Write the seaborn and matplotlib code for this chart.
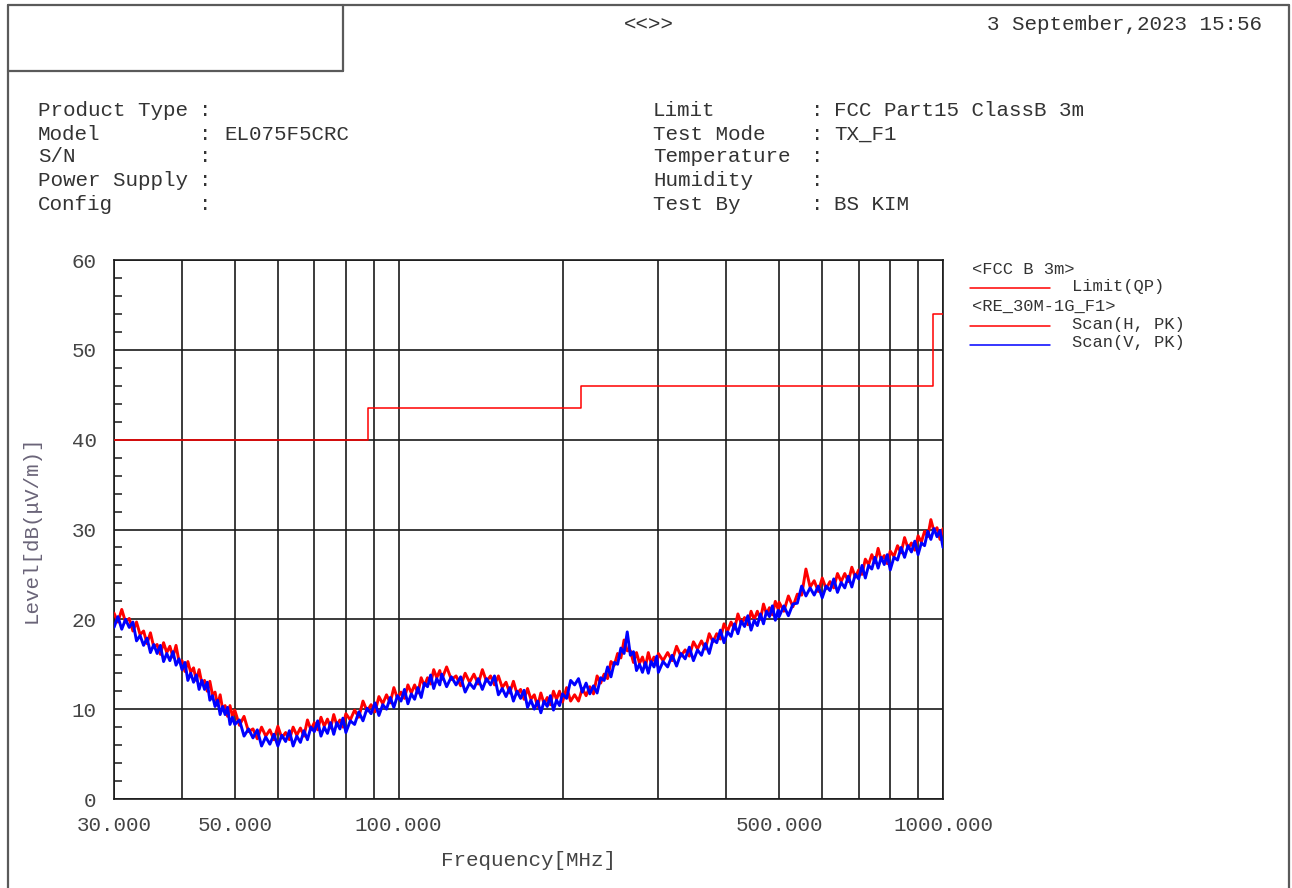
import matplotlib
matplotlib.use("Agg")
import matplotlib.pyplot as plt
import seaborn as sns
import pandas as pd
from matplotlib.lines import Line2D
from matplotlib.ticker import FixedLocator, NullFormatter

# ---------------- data ----------------
freq_mhz = [30, 30.5, 31, 31.5, 32, 32.5, 33, 33.5, 34, 34.5, 35, 35.5, 36, 36.5, 37, 37.5, 38, 38.5, 39, 39.5,
            40, 40.5, 41, 41.5, 42, 42.5, 43, 43.5, 44, 44.5, 45, 45.5, 46, 46.5, 47, 47.5, 48, 48.5, 49, 49.5,
            50, 51, 52, 53, 54, 55, 56, 57, 58, 59, 60, 61, 62, 63, 64, 65, 66, 67, 68, 69,
            70, 71, 72, 73, 74, 75, 76, 77, 78, 79,
            80, 81.5, 83, 84.5, 86, 87.5, 89, 90.5, 92, 93.5, 95, 96.5, 98, 99.5, 101, 102.5, 104, 105.5,
            107, 108.5, 110, 111.5, 113, 114.5, 116, 117.5, 119,
            120, 122.5, 125, 127.5, 130, 132.5, 135, 137.5, 140, 142.5, 145, 147.5, 150, 152.5, 155, 157.5,
            160, 162.5, 165, 167.5, 170, 172.5, 175, 177.5, 180, 182.5, 185, 187.5, 190, 192.5, 195, 197.5,
            200, 203.5, 207, 210.5, 214, 217.5, 221, 224.5, 228, 231.5, 235, 238.5, 242, 245.5, 249, 252.5,
            256, 259.5, 263, 266.5, 270, 273.5, 277, 280.5, 284, 287.5, 291, 294.5, 298,
            300, 306, 312, 318, 324, 330, 336, 342, 348, 354, 360, 366, 372, 378, 384, 390, 396, 402, 408,
            414, 420, 426, 432, 438, 444, 450, 456, 462, 468, 474, 480, 486, 492, 498,
            500, 510, 520, 530, 540, 550, 560, 570, 580, 590, 600, 610, 620, 630, 640, 650, 660, 670, 680,
            690, 700, 710, 720, 730, 740, 750, 760, 770, 780, 790,
            800, 812.5, 825, 837.5, 850, 862.5, 875, 887.5, 900, 912.5, 925, 937.5, 950, 962.5, 975, 987.5, 1000]

scan_h = [20.7, 19.7, 21.1, 19.7, 20.1, 18.7, 19.7, 18.3, 18.7, 17.3, 18.5, 16.9, 17.2, 16.1, 17.4, 16.3, 17.0, 15.8, 17.1, 15.3,
          15.4, 14.2, 15.3, 14.1, 14.6, 13.2, 14.4, 12.9, 13.2, 12.0, 13.1, 11.6, 11.9, 10.4, 11.6, 10.0, 10.4, 9.2, 10.4, 9.2,
          9.9, 8.2, 9.2, 7.5, 7.8, 6.7, 8.0, 7.0, 7.7, 6.6, 8.1, 6.8, 7.4, 6.6, 8.0, 7.1, 7.9, 7.0, 8.8, 7.7,
          8.5, 7.7, 9.1, 8.1, 8.9, 7.9, 9.4, 8.2, 8.8, 8.0,
          9.5, 8.8, 9.9, 9.1, 10.9, 9.8, 10.5, 9.7, 11.4, 10.6, 11.6, 10.7, 12.4, 11.2, 11.9, 11.2, 12.7, 11.8,
          12.7, 11.8, 13.5, 12.6, 13.5, 12.8, 14.4, 13.5, 14.3,
          13.3, 14.7, 13.3, 13.7, 12.6, 14.0, 13.0, 13.9, 12.8, 14.4, 13.1, 13.7, 12.7, 13.7, 12.4, 13.0,
          11.8, 13.1, 11.7, 12.2, 11.1, 12.3, 11.1, 11.6, 10.3, 11.8, 10.6, 11.3, 10.5, 12.0, 11.1, 12.0,
          10.8, 12.4, 10.9, 11.6, 10.9, 12.3, 11.5, 12.5, 11.7, 13.7, 12.9, 13.9, 13.4, 15.3, 14.9, 16.2,
          15.7, 17.7, 16.5, 16.5, 15.2, 16.3, 15.1, 15.8, 14.7, 16.3, 15.1, 15.8, 14.9,
          16.2, 15.4, 16.3, 15.4, 17.0, 15.9, 16.6, 15.9, 17.5, 16.7, 17.6, 16.7, 18.4, 17.5, 18.4, 17.8, 19.5, 18.7, 19.7,
          18.9, 20.6, 19.5, 20.2, 19.4, 20.9, 20.0, 20.9, 20.0, 21.7, 20.6, 21.3, 20.5, 22.0, 21.1,
          21.9, 20.9, 22.6, 21.4, 22.8, 22.7, 25.6, 23.6, 24.3, 23.1, 24.6, 23.4, 24.2, 23.5, 25.1, 24.2, 25.1, 24.2, 25.8,
          24.7, 25.5, 25.0, 26.7, 26.1, 27.2, 26.3, 27.9, 26.6, 27.1, 26.2,
          27.6, 27.0, 28.2, 27.4, 29.1, 27.9, 28.5, 27.7, 29.3, 28.6, 29.8, 29.2, 31.1, 29.8, 30.2, 28.9, 30.1]

scan_v = [19.1, 20.3, 18.9, 20.0, 19.1, 19.7, 17.6, 18.2, 17.1, 17.9, 16.3, 17.2, 16.2, 17.1, 15.3, 16.2, 15.4, 16.4, 14.9, 15.6,
          14.4, 15.2, 13.2, 14.0, 13.0, 13.8, 12.2, 13.2, 12.2, 13.0, 11.0, 11.5, 10.3, 11.0, 9.4, 10.3, 9.4, 10.2, 8.3, 9.1,
          8.3, 8.8, 7.0, 7.8, 6.8, 7.7, 5.9, 6.9, 6.1, 7.2, 5.9, 7.1, 6.4, 7.6, 5.9, 7.0, 6.3, 7.6, 6.6, 8.0,
          7.5, 8.7, 7.0, 8.0, 7.3, 8.5, 7.2, 8.5, 7.8, 9.0,
          7.4, 8.7, 8.3, 9.7, 8.7, 10.1, 9.5, 10.7, 9.3, 10.5, 10.0, 11.3, 10.2, 11.5, 10.9, 12.2, 10.6, 11.7,
          11.1, 12.4, 11.3, 12.9, 12.5, 13.8, 12.3, 13.4, 12.7,
          13.9, 12.5, 13.6, 12.7, 13.6, 11.9, 12.9, 12.3, 13.4, 12.2, 13.4, 12.7, 13.7, 11.6, 12.3, 11.4,
          12.4, 10.9, 12.0, 11.2, 12.1, 10.2, 11.0, 10.0, 10.9, 9.6, 10.9, 10.3, 11.5, 9.9, 11.0, 10.4,
          11.7, 11.2, 13.2, 12.7, 13.4, 11.9, 12.9, 11.7, 12.6, 11.8, 13.5, 13.2, 14.7, 13.6, 15.2, 15.0,
          16.8, 16.2, 18.6, 16.0, 16.4, 14.3, 15.0, 14.1, 15.2, 14.0, 15.3, 14.7, 15.9,
          14.1, 15.3, 14.7, 16.0, 14.8, 16.2, 15.6, 16.9, 15.4, 16.6, 16.0, 17.3, 16.2, 17.8, 17.4, 18.8, 17.4, 18.6, 18.1,
          19.5, 18.4, 19.8, 19.2, 20.4, 18.8, 19.9, 19.3, 20.6, 19.5, 20.9, 20.3, 21.5, 19.9, 21.0,
          20.3, 21.5, 20.4, 21.7, 21.8, 23.7, 22.6, 23.5, 22.7, 23.7, 22.4, 23.7, 23.2, 24.5, 23.0, 24.1, 23.5, 24.8, 23.6,
          25.0, 24.5, 26.0, 24.6, 26.0, 25.6, 26.9, 25.7, 26.9, 26.1, 27.2,
          25.5, 26.9, 26.6, 28.0, 26.9, 28.2, 27.5, 28.7, 27.2, 28.5, 28.2, 29.8, 28.9, 30.1, 29.2, 29.9, 28.0]

limit_freq = [30, 88, 216, 960, 1000]
limit_level = [40.0, 43.5, 46.0, 54.0, 54.0]

xtick_values = [30, 50, 100, 500, 1000]
xtick_labels = ["30.000", "50.000", "100.000", "500.000", "1000.000"]
xgrid_values = [40, 60, 70, 80, 90, 200, 300, 400, 600, 700, 800, 900]
ytick_values = [0, 10, 20, 30, 40, 50, 60]

header_left = [("Product Type", ""), ("Model", "EL075F5CRC"), ("S/N", ""),
               ("Power Supply", ""), ("Config", "")]
header_right = [("Limit", "FCC Part15 ClassB 3m"), ("Test Mode", "TX_F1"),
                ("Temperature", ""), ("Humidity", ""), ("Test By", "BS KIM")]

# ---------------- style ----------------
sns.set_style("white")
plt.rcParams['font.family'] = ['Liberation Mono', 'DejaVu Sans Mono']

W, H = 1292, 888
fig = plt.figure(figsize=(W / 100, H / 100), dpi=100)

def fx(px):
    return px / W

def fy(py):
    return 1 - py / H

ax = fig.add_axes([fx(114), fy(799), fx(943) - fx(114), fy(260) - fy(799)])

df_h = pd.DataFrame({"freq": freq_mhz, "level": scan_h})
df_v = pd.DataFrame({"freq": freq_mhz, "level": scan_v})
df_lim = pd.DataFrame({"freq": limit_freq, "level": limit_level})

sns.lineplot(data=df_lim, x="freq", y="level", ax=ax, color="#ff0000", lw=1.1,
             drawstyle="steps-post", estimator=None, sort=False, zorder=4)
sns.lineplot(data=df_h, x="freq", y="level", ax=ax, color="#ff0000", lw=2.1,
             estimator=None, sort=False, zorder=3)
sns.lineplot(data=df_v, x="freq", y="level", ax=ax, color="#0000ff", lw=2.1,
             estimator=None, sort=False, zorder=3)

ax.set_xscale("log")
ax.set_xlim(30, 1000)
ax.set_ylim(0, 60)
ax.set_xticks(xtick_values)
ax.set_xticklabels(xtick_labels)
ax.xaxis.set_minor_locator(FixedLocator(xgrid_values))
ax.xaxis.set_minor_formatter(NullFormatter())
ax.set_yticks(ytick_values)
ax.yaxis.set_minor_locator(FixedLocator([v for v in range(0, 61, 2) if v % 10]))
ax.grid(True, which="major", color="#1a1a1a", lw=1.2, zorder=0)
ax.grid(True, which="minor", axis="x", color="#1a1a1a", lw=1.2, zorder=0)
ax.set_axisbelow(True)
ax.tick_params(axis="x", which="both", length=0, pad=12.5, labelsize=15, labelcolor="#444444")
ax.tick_params(axis="y", which="major", length=0, pad=12.5, labelsize=15, labelcolor="#444444")
ax.tick_params(axis="y", which="minor", left=True, direction="in", length=6, width=1.1, color="#1a1a1a")
for s in ax.spines.values():
    s.set_color("#1a1a1a")
    s.set_linewidth(1.2)
ax.set_xlabel("Frequency[MHz]", fontsize=15, color="#444444", labelpad=11)
ax.set_ylabel("Level[dB(\u03bcV/m)]", fontsize=15, color="#6a6478", labelpad=22)

# ---------------- page frame & header ----------------
fc = "#5a5a5a"
fig.add_artist(Line2D([fx(8), fx(8)], [fy(5), 0], color=fc, lw=1.6))
fig.add_artist(Line2D([fx(8), fx(1289)], [fy(5), fy(5)], color=fc, lw=1.6))
fig.add_artist(Line2D([fx(1289), fx(1289)], [fy(5), 0], color=fc, lw=1.6))
fig.add_artist(Line2D([fx(343), fx(343)], [fy(5), fy(71)], color=fc, lw=1.6))
fig.add_artist(Line2D([fx(8), fx(343)], [fy(71), fy(71)], color=fc, lw=1.6))

tc = "#333333"
fs = 15
fig.text(fx(649), fy(25), "<<>>", ha="center", va="center", fontsize=fs, color=tc)
fig.text(fx(1262), fy(25), "3 September,2023 15:56", ha="right", va="center", fontsize=fs, color=tc)

row_y = [110, 134, 157, 181, 205]
for (k, v), yy in zip(header_left, row_y):
    fig.text(fx(38), fy(yy), k, ha="left", va="center", fontsize=fs, color=tc)
    fig.text(fx(199), fy(yy), ":", ha="left", va="center", fontsize=fs, color=tc)
    if v:
        fig.text(fx(224), fy(yy), v, ha="left", va="center", fontsize=fs, color=tc)
for (k, v), yy in zip(header_right, row_y):
    fig.text(fx(653), fy(yy), k, ha="left", va="center", fontsize=fs, color=tc)
    fig.text(fx(811), fy(yy), ":", ha="left", va="center", fontsize=fs, color=tc)
    if v:
        fig.text(fx(834), fy(yy), v, ha="left", va="center", fontsize=fs, color=tc)

# ---------------- legend ----------------
lc = "#333333"
lfs = 12.3
fig.text(fx(972), fy(269), "<FCC B 3m>", ha="left", va="center", fontsize=lfs, color=lc)
fig.add_artist(Line2D([fx(970), fx(1050)], [fy(288), fy(288)], color="#ff0000", lw=1.1))
fig.text(fx(1072), fy(287), "Limit(QP)", ha="left", va="center", fontsize=lfs, color=lc)
fig.text(fx(972), fy(306), "<RE_30M-1G_F1>", ha="left", va="center", fontsize=lfs, color=lc)
fig.add_artist(Line2D([fx(970), fx(1050)], [fy(326), fy(326)], color="#ff0000", lw=1.1))
fig.text(fx(1072), fy(324), "Scan(H, PK)", ha="left", va="center", fontsize=lfs, color=lc)
fig.add_artist(Line2D([fx(970), fx(1050)], [fy(345), fy(345)], color="#0000ff", lw=1.1))
fig.text(fx(1072), fy(343), "Scan(V, PK)", ha="left", va="center", fontsize=lfs, color=lc)

fig.savefig("out.png", dpi=100, facecolor="white")
